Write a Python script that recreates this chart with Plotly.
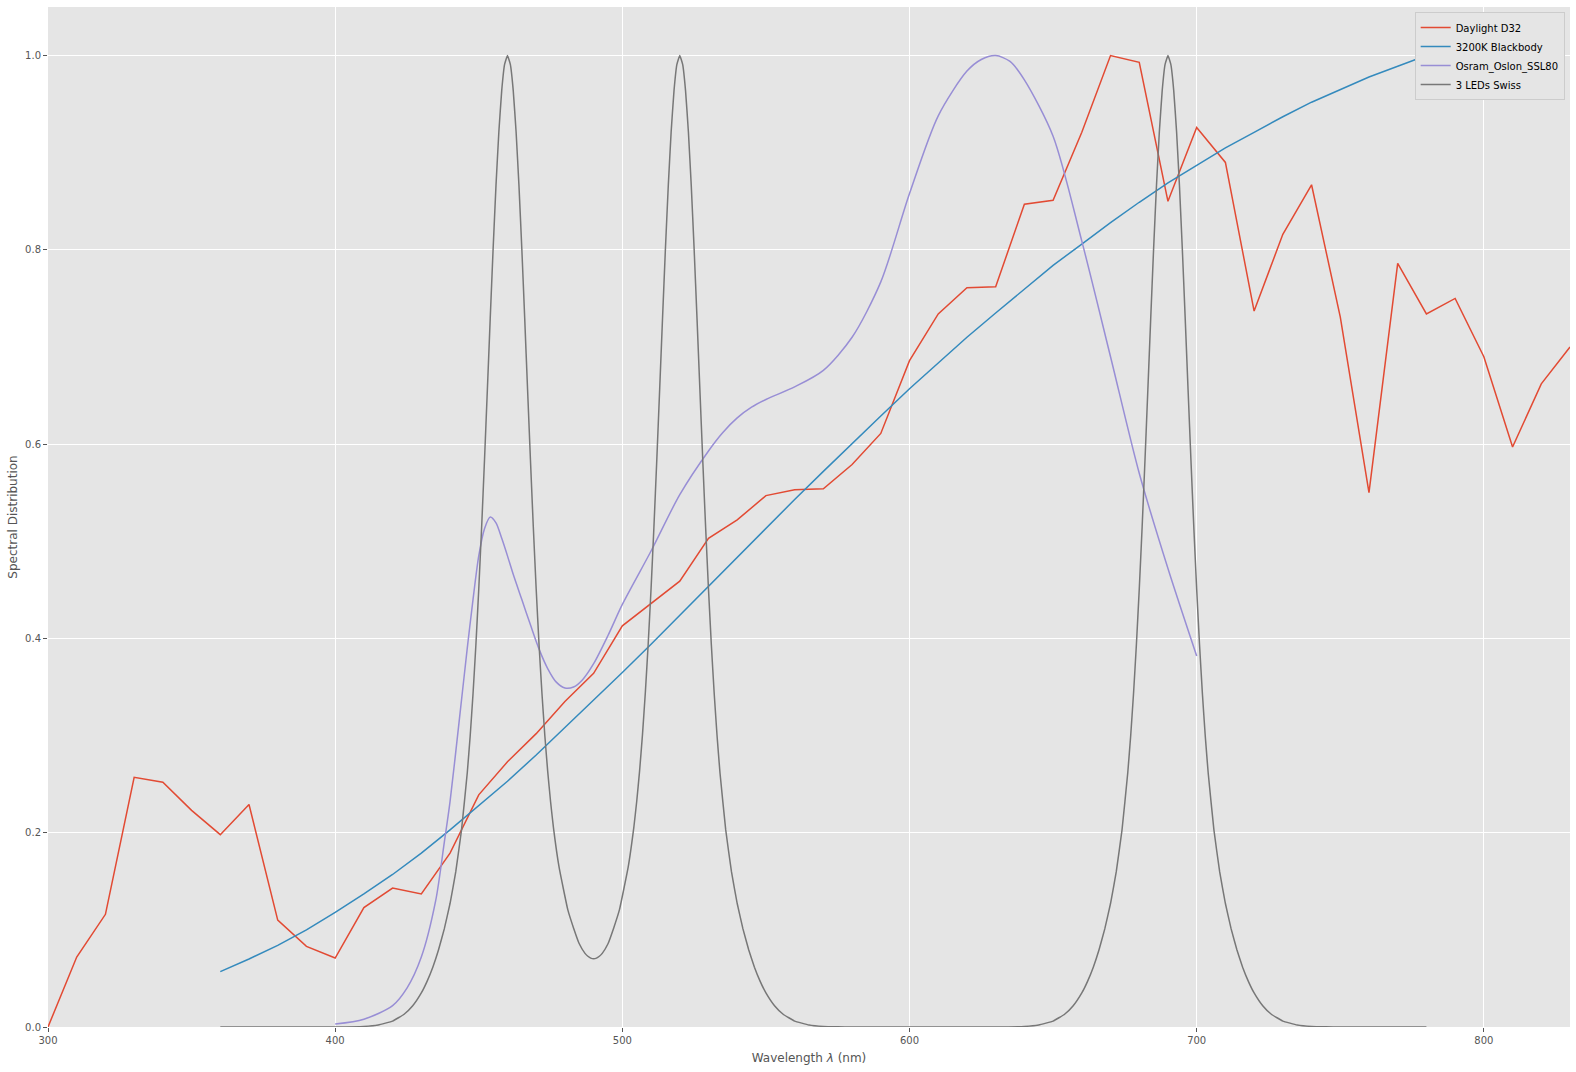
import plotly.graph_objects as go

# ---------------- data ----------------
daylight_wl = list(range(300, 831, 10))
daylight_val = [0.000, 0.072, 0.116, 0.257, 0.252, 0.223, 0.198, 0.229, 0.110, 0.083,
                0.071, 0.123, 0.143, 0.137, 0.179, 0.239, 0.273, 0.302, 0.335, 0.364,
                0.413, 0.436, 0.459, 0.503, 0.522, 0.547, 0.553, 0.554, 0.579, 0.611,
                0.686, 0.734, 0.761, 0.762, 0.847, 0.851, 0.921, 1.000, 0.993, 0.850,
                0.926, 0.890, 0.737, 0.816, 0.867, 0.731, 0.550, 0.786, 0.734, 0.750,
                0.690, 0.597, 0.662, 0.700]

blackbody_wl = list(range(360, 781, 10))
blackbody_val = [0.057, 0.070, 0.084, 0.100, 0.118, 0.137, 0.157, 0.179, 0.203, 0.228,
                 0.253, 0.280, 0.308, 0.336, 0.365, 0.394, 0.424, 0.454, 0.483, 0.513,
                 0.543, 0.572, 0.601, 0.629, 0.657, 0.684, 0.710, 0.735, 0.760, 0.784,
                 0.806, 0.828, 0.849, 0.869, 0.887, 0.905, 0.921, 0.937, 0.952, 0.965,
                 0.978, 0.989, 1.000]

osram_wl = [400, 410, 420, 425, 430, 435, 438, 440, 443, 446, 448, 450, 452, 454, 456,
            458, 460, 462, 465, 468, 471, 474, 477, 480, 483, 486, 490, 495, 500, 510,
            520, 530, 535, 540, 545, 550, 560, 570, 580, 590, 600, 610, 620, 625, 630,
            635, 640, 650, 660, 670, 680, 690, 700]
osram_val = [0.003, 0.008, 0.022, 0.040, 0.072, 0.130, 0.190, 0.232, 0.310, 0.390, 0.440,
             0.485, 0.513, 0.525, 0.519, 0.503, 0.485, 0.466, 0.440, 0.414, 0.389, 0.369,
             0.355, 0.349, 0.350, 0.357, 0.374, 0.403, 0.435, 0.490, 0.548, 0.593, 0.612,
             0.627, 0.638, 0.646, 0.659, 0.676, 0.710, 0.767, 0.858, 0.938, 0.984, 0.996,
             1.000, 0.994, 0.975, 0.917, 0.809, 0.690, 0.570, 0.472, 0.382]

led_wl = [360, 380, 400, 410, 415, 420, 424, 427, 430, 432, 434, 436, 438, 440, 442, 444,
          446, 447, 448, 449, 450, 451, 452, 453, 454, 455, 456, 457, 458, 459, 460,
          461, 462, 463, 464, 465, 466, 467, 468, 469, 470, 471, 472, 473, 474, 475, 476,
          478, 481, 483, 485, 487, 488, 489, 490, 491, 492, 493, 495, 497, 499, 502, 504,
          505, 506, 507, 508, 509,
          510, 511, 512, 513, 514, 515, 516, 517, 518, 519, 520,
          521, 522, 523, 524, 525, 526, 527, 528, 529, 530, 531, 532, 533, 534, 536,
          538, 540, 542, 544, 546, 548, 550, 553, 556, 560, 565, 570, 575, 580, 600,
          630, 640, 645, 650, 654, 657, 660, 662, 664, 666, 668, 670, 672, 674, 676,
          677, 678, 679, 680, 681, 682, 683, 684, 685, 686, 687, 688, 689, 690,
          691, 692, 693, 694, 695, 696, 697, 698, 699, 700, 701, 702, 703, 704, 706,
          708, 710, 712, 714, 716, 718, 720, 723, 726, 730, 735, 740, 745, 750, 780]
led_val = [0.0, 0.0, 0.00004, 0.0006, 0.0021, 0.0061, 0.0131, 0.0219, 0.0351, 0.0470,
           0.0616, 0.0795, 0.1010, 0.1271, 0.1599, 0.2029,
           0.2617, 0.2991, 0.3428, 0.3932, 0.4506, 0.5144, 0.5836, 0.6562, 0.7297, 0.8009,
           0.8661, 0.9216, 0.9642, 0.9909, 1.0,
           0.9909, 0.9642, 0.9216, 0.8661, 0.8009, 0.7297, 0.6562, 0.5836, 0.5144, 0.4506,
           0.3932, 0.3438, 0.3004, 0.2634, 0.2321, 0.2055,
           0.1640, 0.1208, 0.1020, 0.0857, 0.0758, 0.0728, 0.0709, 0.0703, 0.0709, 0.0728,
           0.0758, 0.0857, 0.1020, 0.1208, 0.1640, 0.2055,
           0.2321, 0.2634, 0.3004, 0.3438, 0.3940,
           0.4512, 0.5149, 0.5840, 0.6565, 0.7299, 0.8011, 0.8662, 0.9217, 0.9642, 0.9909, 1.0,
           0.9909, 0.9642, 0.9216, 0.8661, 0.8009, 0.7297, 0.6562, 0.5836, 0.5144, 0.4506,
           0.3932, 0.3428, 0.2991, 0.2617, 0.2029,
           0.1599, 0.1271, 0.1010, 0.0795, 0.0616, 0.0470, 0.0351, 0.0219, 0.0131, 0.0061,
           0.0021, 0.0006, 0.0002, 0.00004, 0.0,
           0.00004, 0.0006, 0.0021, 0.0061, 0.0131, 0.0219, 0.0351, 0.0470, 0.0616, 0.0795,
           0.1010, 0.1271, 0.1599, 0.2029, 0.2617,
           0.2991, 0.3428, 0.3932, 0.4506, 0.5144, 0.5836, 0.6562, 0.7297, 0.8009, 0.8661,
           0.9216, 0.9642, 0.9909, 1.0,
           0.9909, 0.9642, 0.9216, 0.8661, 0.8009, 0.7297, 0.6562, 0.5836, 0.5144, 0.4506,
           0.3932, 0.3428, 0.2991, 0.2617, 0.2029,
           0.1599, 0.1271, 0.1010, 0.0795, 0.0616, 0.0470, 0.0351, 0.0219, 0.0131, 0.0061,
           0.0021, 0.0006, 0.0002, 0.00004, 0.0]

series_names = ["Daylight D32", "3200K Blackbody", "Osram_Oslon_SSL80", "3 LEDs Swiss"]
x_ticks = [300, 400, 500, 600, 700, 800]
y_ticks = [0.0, 0.2, 0.4, 0.6, 0.8, 1.0]
y_tick_labels = ["0.0", "0.2", "0.4", "0.6", "0.8", "1.0"]

# ---------------- figure ----------------
colors = ["#E24A33", "#348ABD", "#988ED5", "#777777"]
FONT = "DejaVu Sans"

fig = go.Figure()
fig.add_trace(go.Scatter(x=daylight_wl, y=daylight_val, mode="lines", name=series_names[0],
                         line=dict(color=colors[0], width=1.5)))
fig.add_trace(go.Scatter(x=blackbody_wl, y=blackbody_val, mode="lines", name=series_names[1],
                         line=dict(color=colors[1], width=1.5)))
fig.add_trace(go.Scatter(x=osram_wl, y=osram_val, mode="lines", name=series_names[2],
                         line=dict(color=colors[2], width=1.5, shape="spline", smoothing=0.8)))
fig.add_trace(go.Scatter(x=led_wl, y=led_val, mode="lines", name=series_names[3],
                         line=dict(color=colors[3], width=1.5, shape="spline", smoothing=0.3)))

axis_common = dict(
    showgrid=True, gridcolor="white", gridwidth=1,
    zeroline=False, showline=False,
    ticks="outside", ticklen=4, tickwidth=1, tickcolor="#555555",
    tickfont=dict(family=FONT, size=10, color="#555555"),
    automargin=False,
)

fig.update_layout(
    width=1576, height=1072,
    margin=dict(l=48, r=6, t=7, b=45),
    paper_bgcolor="white", plot_bgcolor="#E5E5E5",
    font=dict(family=FONT, size=10, color="#555555"),
    showlegend=True,
    legend=dict(
        x=0.9965, y=0.995, xanchor="right", yanchor="top",
        bgcolor="#E5E5E5", bordercolor="#CCCCCC", borderwidth=1,
        font=dict(family=FONT, size=10, color="#000000"),
        itemwidth=30, tracegroupgap=0,
    ),
    xaxis=dict(
        range=[300, 830], tickvals=x_ticks,
        title=dict(text="Wavelength <i>λ</i> (nm)", standoff=8,
                   font=dict(family=FONT, size=12, color="#555555")),
        **axis_common,
    ),
    yaxis=dict(
        range=[0, 1.05], tickvals=y_ticks, ticktext=y_tick_labels,
        title=dict(text="Spectral Distribution", standoff=4,
                   font=dict(family=FONT, size=12, color="#555555")),
        **axis_common,
    ),
)

fig.write_html(
    "out.html",
    config={"displayModeBar": False},
    post_script="document.body.style.margin='0';document.body.style.overflow='hidden';",
)
